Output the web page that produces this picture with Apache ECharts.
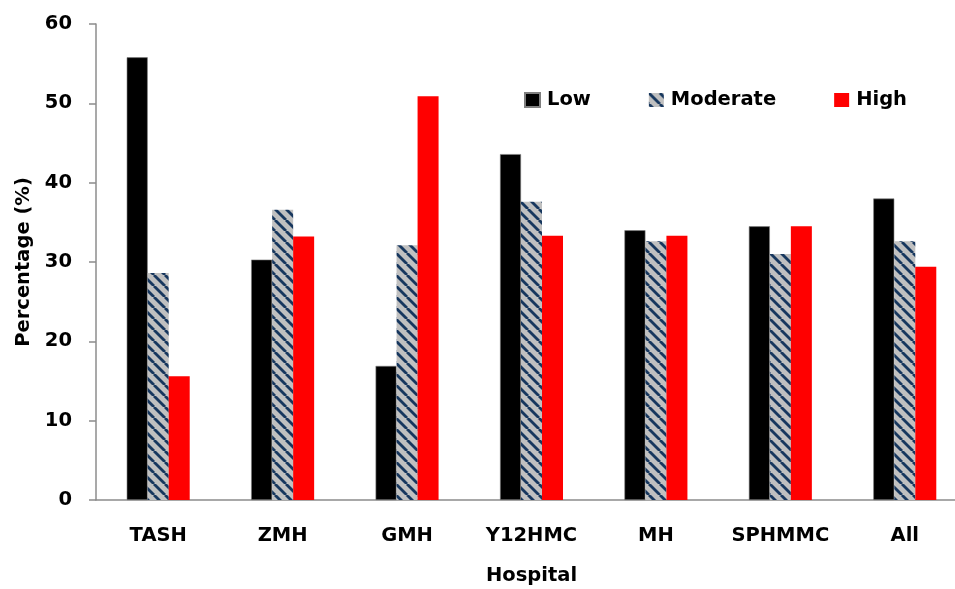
<!DOCTYPE html>
<html>
<head>
<meta charset="utf-8">
<script src="https://cdn.jsdelivr.net/npm/echarts@6/dist/echarts.min.js"></script>
<style>html,body{margin:0;padding:0;background:#fff}#c{width:955px;height:589px}</style>
</head>
<body>
<div id="c"></div>
<script>
var categories = ['TASH', 'ZMH', 'GMH', 'Y12HMC', 'MH', 'SPHMMC', 'All'];
var lowValues = [55.8, 30.3, 16.9, 43.6, 34.0, 34.5, 38.0];
var moderateValues = [28.6, 36.6, 32.1, 37.6, 32.6, 31.0, 32.6];
var highValues = [15.6, 33.2, 50.9, 33.3, 33.3, 34.5, 29.4];
var yTicks = [0, 10, 20, 30, 40, 50, 60];

function makeStripe() {
  var s = 11;
  var c = document.createElement('canvas');
  c.width = s; c.height = s;
  var g = c.getContext('2d');
  g.fillStyle = '#c0c0c0';
  g.fillRect(0, 0, s, s);
  g.strokeStyle = '#17375e';
  g.lineWidth = 2.8;
  [-s, 0, s].forEach(function (o) {
    g.beginPath();
    g.moveTo(o, 0);
    g.lineTo(o + s, s);
    g.stroke();
  });
  return c;
}
var stripe = { image: makeStripe(), repeat: 'repeat' };

var font = '"DejaVu Sans", "Open Sans", sans-serif';
var fs = 19.5;
var chart = echarts.init(document.getElementById('c'), null, { renderer: 'canvas' });
chart.setOption({
  animation: false,
  backgroundColor: '#fff',
  textStyle: { fontFamily: font },
  grid: { left: 96, right: -12, top: 24, bottom: 89, containLabel: false, outerBoundsMode: 'none' },
  legend: {
    left: 524, top: 90, padding: 0,
    itemWidth: 15, itemHeight: 14, itemGap: 58,
    icon: 'rect',
    textStyle: { fontSize: fs, fontWeight: 'bold', color: '#000', fontFamily: font, padding: [0, 0, 0, 2] },
    data: ['Low', 'Moderate', 'High']
  },
  xAxis: {
    type: 'category',
    data: categories,
    name: 'Hospital',
    nameLocation: 'middle',
    nameGap: 66,
    nameTextStyle: { fontSize: fs, fontWeight: 'bold', color: '#000' },
    axisLine: { lineStyle: { color: '#8c8c8c', width: 1.5 } },
    axisTick: { show: false },
    axisLabel: { interval: 0, fontSize: fs, fontWeight: 'bold', color: '#000', margin: 26 }
  },
  yAxis: {
    type: 'value',
    min: yTicks[0], max: yTicks[yTicks.length - 1], interval: 10,
    name: 'Percentage (%)',
    nameLocation: 'middle',
    nameGap: 62,
    nameTextStyle: { fontSize: fs, fontWeight: 'bold', color: '#000' },
    axisLine: { show: true, lineStyle: { color: '#8c8c8c', width: 1.5 } },
    axisTick: { show: true, inside: false, length: 7, lineStyle: { color: '#8c8c8c', width: 1.5 } },
    splitLine: { show: false },
    axisLabel: { fontSize: fs, fontWeight: 'bold', color: '#000', margin: 24 }
  },
  series: [
    { name: 'Low', type: 'bar', data: lowValues, barWidth: 21, barGap: '0%',
      itemStyle: { color: '#000', borderColor: '#7f7f7f', borderWidth: 0.6 } },
    { name: 'Moderate', type: 'bar', data: moderateValues, barWidth: 21, barGap: '0%',
      itemStyle: { color: stripe } },
    { name: 'High', type: 'bar', data: highValues, barWidth: 21, barGap: '0%',
      itemStyle: { color: '#ff0000' } }
  ]
});
</script>
</body>
</html>
